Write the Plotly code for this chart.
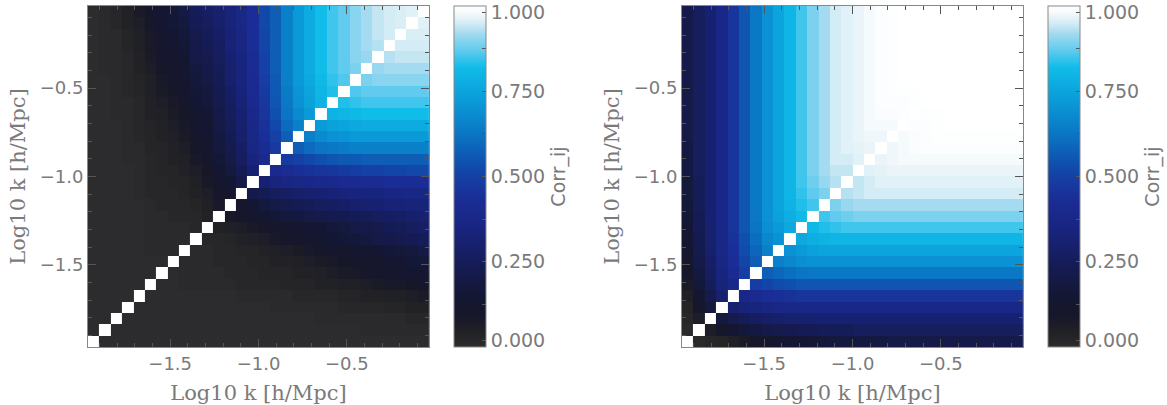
import plotly.graph_objects as go

# bin centres, log10 k [h/Mpc]
log_k = [-1.933, -1.868, -1.804, -1.740, -1.675, -1.611, -1.546, -1.482, -1.418, -1.353,
         -1.289, -1.225, -1.160, -1.096, -1.032, -0.967, -0.903, -0.839, -0.774, -0.710,
         -0.646, -0.581, -0.517, -0.453, -0.388, -0.324, -0.260, -0.195, -0.131, -0.067]

# correlation, row m holds Corr(m, M) for M = m+1 .. 29 (matrix is symmetric, diagonal = 1)
left_rows = [
    [0.00,0.00,0.00,0.00,0.00,0.00,0.00,0.00,0.00,0.00,0.00,0.00,0.00,0.00,0.00,0.00,0.00,0.00,0.00,0.00,0.00,0.00,0.00,0.00,0.00,0.00,0.00,0.00,0.00],
    [0.00,0.00,0.00,0.00,0.00,0.00,0.00,0.00,0.00,0.00,0.00,0.00,0.00,0.00,0.00,0.00,0.00,0.00,0.00,0.00,0.00,0.00,0.01,0.01,0.01,0.01,0.01,0.01],
    [0.00,0.00,0.00,0.00,0.00,0.00,0.00,0.00,0.00,0.00,0.00,0.00,0.00,0.00,0.00,0.00,0.00,0.01,0.01,0.01,0.01,0.01,0.01,0.01,0.01,0.02,0.02],
    [0.00,0.00,0.00,0.00,0.00,0.00,0.00,0.00,0.00,0.00,0.00,0.00,0.01,0.01,0.01,0.01,0.01,0.01,0.02,0.02,0.02,0.02,0.03,0.03,0.04,0.04],
    [0.00,0.00,0.00,0.00,0.00,0.00,0.00,0.00,0.01,0.01,0.01,0.01,0.01,0.02,0.02,0.02,0.02,0.03,0.03,0.04,0.04,0.05,0.05,0.06,0.07],
    [0.00,0.00,0.01,0.01,0.01,0.01,0.01,0.02,0.02,0.02,0.02,0.03,0.03,0.03,0.04,0.04,0.05,0.05,0.06,0.07,0.08,0.08,0.09,0.10],
    [0.00,0.01,0.01,0.01,0.01,0.02,0.02,0.02,0.03,0.03,0.03,0.04,0.04,0.05,0.06,0.07,0.08,0.09,0.10,0.11,0.12,0.13,0.14],
    [0.01,0.01,0.01,0.02,0.02,0.02,0.03,0.03,0.04,0.04,0.05,0.06,0.07,0.08,0.09,0.10,0.11,0.12,0.13,0.14,0.16,0.17],
    [0.01,0.01,0.02,0.02,0.03,0.03,0.04,0.05,0.06,0.07,0.08,0.09,0.10,0.11,0.12,0.13,0.14,0.16,0.17,0.18,0.20],
    [0.02,0.02,0.03,0.04,0.05,0.06,0.08,0.09,0.10,0.12,0.13,0.15,0.16,0.17,0.18,0.20,0.21,0.22,0.24,0.25],
    [0.04,0.05,0.06,0.08,0.09,0.10,0.12,0.13,0.14,0.15,0.17,0.18,0.20,0.21,0.22,0.24,0.25,0.26,0.28],
    [0.08,0.10,0.12,0.14,0.16,0.18,0.19,0.20,0.21,0.22,0.23,0.24,0.25,0.26,0.27,0.28,0.29,0.30],
    [0.12,0.15,0.18,0.20,0.22,0.24,0.25,0.26,0.27,0.28,0.29,0.30,0.31,0.32,0.32,0.33,0.33],
    [0.21,0.24,0.26,0.28,0.29,0.30,0.31,0.32,0.33,0.34,0.35,0.35,0.36,0.36,0.37,0.37],
    [0.31,0.34,0.36,0.37,0.38,0.39,0.40,0.41,0.41,0.42,0.42,0.43,0.43,0.43,0.43],
    [0.40,0.42,0.44,0.45,0.46,0.47,0.48,0.49,0.50,0.50,0.51,0.51,0.52,0.52],
    [0.48,0.50,0.52,0.54,0.55,0.56,0.56,0.57,0.57,0.57,0.57,0.57,0.57],
    [0.57,0.60,0.62,0.63,0.64,0.65,0.65,0.65,0.65,0.65,0.65,0.65],
    [0.65,0.68,0.70,0.71,0.72,0.72,0.72,0.72,0.72,0.72,0.72],
    [0.72,0.74,0.75,0.76,0.77,0.77,0.77,0.77,0.77,0.77],
    [0.79,0.80,0.81,0.82,0.82,0.82,0.82,0.82,0.82],
    [0.83,0.84,0.85,0.85,0.85,0.85,0.85,0.85],
    [0.86,0.87,0.87,0.87,0.87,0.87,0.87],
    [0.89,0.90,0.90,0.90,0.90,0.90],
    [0.91,0.92,0.92,0.92,0.92],
    [0.93,0.94,0.94,0.94],
    [0.95,0.95,0.95],
    [0.955,0.955],
    [0.96],
]

right_rows = [
    [0.01,0.02,0.03,0.05,0.07,0.09,0.11,0.13,0.14,0.15,0.16,0.17,0.18,0.18,0.19,0.19,0.19,0.20,0.20,0.20,0.20,0.20,0.21,0.21,0.21,0.21,0.21,0.21,0.21],
    [0.06,0.10,0.14,0.17,0.19,0.21,0.22,0.23,0.24,0.24,0.25,0.25,0.25,0.26,0.26,0.26,0.26,0.26,0.26,0.26,0.26,0.26,0.26,0.26,0.26,0.26,0.26,0.26],
    [0.18,0.22,0.25,0.27,0.28,0.29,0.30,0.30,0.31,0.31,0.31,0.31,0.31,0.31,0.31,0.31,0.31,0.31,0.31,0.31,0.31,0.31,0.31,0.31,0.31,0.31,0.31],
    [0.30,0.33,0.35,0.36,0.37,0.37,0.38,0.38,0.38,0.38,0.38,0.38,0.38,0.38,0.38,0.38,0.38,0.38,0.38,0.38,0.38,0.38,0.38,0.38,0.38,0.38],
    [0.38,0.41,0.43,0.44,0.45,0.46,0.46,0.46,0.46,0.46,0.46,0.46,0.46,0.46,0.46,0.46,0.46,0.46,0.46,0.46,0.46,0.46,0.46,0.46,0.46],
    [0.49,0.51,0.53,0.54,0.55,0.55,0.55,0.55,0.55,0.55,0.55,0.55,0.55,0.55,0.55,0.55,0.55,0.55,0.55,0.55,0.55,0.55,0.55,0.55],
    [0.57,0.59,0.61,0.62,0.63,0.63,0.63,0.63,0.63,0.63,0.63,0.63,0.63,0.63,0.63,0.63,0.63,0.63,0.63,0.63,0.63,0.63,0.63],
    [0.65,0.67,0.69,0.70,0.70,0.70,0.70,0.70,0.70,0.70,0.70,0.70,0.70,0.70,0.70,0.70,0.70,0.70,0.70,0.70,0.70,0.70],
    [0.70,0.72,0.74,0.75,0.75,0.75,0.75,0.75,0.75,0.75,0.75,0.75,0.75,0.75,0.75,0.75,0.75,0.75,0.75,0.75,0.75],
    [0.76,0.78,0.79,0.80,0.80,0.80,0.80,0.80,0.80,0.80,0.80,0.80,0.80,0.80,0.80,0.80,0.80,0.80,0.80,0.80],
    [0.81,0.83,0.84,0.85,0.85,0.85,0.85,0.85,0.85,0.85,0.85,0.85,0.85,0.85,0.85,0.85,0.85,0.85,0.85],
    [0.85,0.87,0.88,0.89,0.89,0.89,0.89,0.89,0.89,0.89,0.89,0.89,0.89,0.89,0.89,0.89,0.89,0.89],
    [0.89,0.91,0.92,0.92,0.92,0.92,0.92,0.92,0.92,0.92,0.92,0.92,0.92,0.92,0.92,0.92,0.92],
    [0.93,0.94,0.95,0.95,0.95,0.95,0.95,0.95,0.95,0.95,0.95,0.95,0.95,0.95,0.95,0.95],
    [0.94,0.95,0.96,0.96,0.96,0.96,0.96,0.96,0.96,0.96,0.96,0.96,0.96,0.96,0.96],
    [0.96,0.965,0.97,0.97,0.97,0.97,0.97,0.97,0.97,0.97,0.97,0.97,0.97,0.97],
    [0.97,0.975,0.98,0.98,0.98,0.98,0.98,0.98,0.98,0.98,0.98,0.98,0.98],
    [0.975,0.98,0.985,0.99,0.99,0.99,0.99,0.99,0.99,0.99,0.99,0.99],
    [0.98,0.985,0.99,0.995,0.995,0.995,0.995,0.995,0.995,0.995,0.995],
    [0.99,0.99,0.995,1.00,1.00,1.00,1.00,1.00,1.00,1.00],
    [0.995,0.995,1.00,1.00,1.00,1.00,1.00,1.00,1.00],
    [1.00,1.00,1.00,1.00,1.00,1.00,1.00,1.00],
    [1.00,1.00,1.00,1.00,1.00,1.00,1.00],
    [1.00,1.00,1.00,1.00,1.00,1.00],
    [1.00,1.00,1.00,1.00,1.00],
    [1.00,1.00,1.00,1.00],
    [1.00,1.00,1.00],
    [1.00,1.00],
    [1.00],
]

cbar_ticks = [0.02, 0.125, 0.25, 0.375, 0.5, 0.625, 0.75, 0.875, 0.98]
cbar_text = ["0.000", "", "0.250", "", "0.500", "", "0.750", "", "1.000"]
axis_ticks = [-1.5, -1.0, -0.5]


def full_matrix(rows):
    n = len(rows) + 1
    z = [[1.0] * n for _ in range(n)]
    for m, row in enumerate(rows):
        assert len(row) == n - 1 - m, (m, len(row))
        for off, v in enumerate(row):
            M = m + 1 + off
            z[m][M] = v
            z[M][m] = v
    return z


colorscale = [
    [0.00, "#2c2c2e"], [0.04, "#222226"], [0.09, "#17172a"], [0.15, "#141733"],
    [0.24, "#151c55"], [0.33, "#18237a"], [0.43, "#1a2c95"], [0.50, "#1540a5"],
    [0.53, "#104cac"], [0.63, "#0a78c5"], [0.72, "#0a9ad8"], [0.82, "#10bce8"],
    [0.87, "#60cbee"], [0.92, "#a5dbf0"], [0.95, "#d4ecf5"], [0.97, "#ebf5f9"],
    [0.985, "#fafcfd"], [1.00, "#ffffff"],
]

W, H = 1167, 405
TXT = "#7a7a7a"
SANS = "DejaVu Sans"
SERIF = "DejaVu Serif"

y0, y1 = 1 - 347 / H, 1 - 6 / H


def cbar(x_left):
    return dict(
        x=x_left / W, xanchor="left", xpad=0, ypad=0,
        y=y0, yanchor="bottom", len=y1 - y0, lenmode="fraction",
        thickness=32, thicknessmode="pixels",
        outlinecolor="#888888", outlinewidth=1,
        tickvals=cbar_ticks, ticktext=cbar_text, ticklabeloverflow="allow",
        ticks="inside", ticklen=4, tickcolor="#555555",
        tickfont=dict(family=SANS, size=19, color=TXT),
        title=dict(text="Corr_ij", side="right", font=dict(family=SANS, size=19, color=TXT)),
    )


fig = go.Figure()
fig.add_trace(go.Heatmap(x=log_k, y=log_k, z=full_matrix(left_rows), zmin=0, zmax=1,
                         colorscale=colorscale, colorbar=cbar(454), xaxis="x", yaxis="y",
                         hoverinfo="skip"))
fig.add_trace(go.Heatmap(x=log_k, y=log_k, z=full_matrix(right_rows), zmin=0, zmax=1,
                         colorscale=colorscale, colorbar=cbar(1048), xaxis="x2", yaxis="y2",
                         hoverinfo="skip"))


def ax(domain, anchor, title_std):
    return dict(
        domain=domain, anchor=anchor, range=[-1.965, -0.035],
        tickvals=axis_ticks, tickformat=".1f",
        ticks="inside", ticklen=8, tickcolor="#555555",
        minor=dict(dtick=0.1, tick0=-2.0, ticks="inside", ticklen=4, tickcolor="#555555"),
        showline=True, linecolor="#888888", linewidth=1, mirror="ticks",
        showgrid=False, zeroline=False,
        tickfont=dict(family=SANS, size=18, color=TXT),
        title=dict(text="Log10 k [h/Mpc]", font=dict(family=SERIF, size=21, color=TXT), standoff=title_std),
    )


fig.update_layout(
    width=W, height=H, margin=dict(l=0, r=0, t=0, b=0),
    paper_bgcolor="white", plot_bgcolor="white",
    xaxis=ax([88 / W, 429 / W], "y", 12),
    yaxis=ax([y0, y1], "x", 8),
    xaxis2=ax([682 / W, 1023 / W], "y2", 12),
    yaxis2=ax([y0, y1], "x2", 8),
    showlegend=False,
)

fig.write_html("out.html")
